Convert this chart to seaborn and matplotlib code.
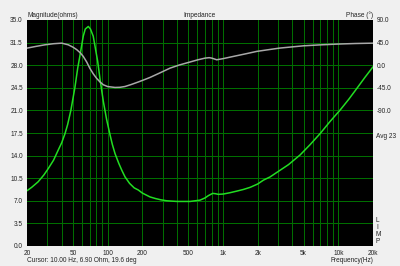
import numpy as np
import pandas as pd
import matplotlib
matplotlib.use("Agg")
import matplotlib.pyplot as plt
import seaborn as sns

# Impedance magnitude (ohms)
mag_freq = [20, 22, 25, 28, 30.6, 34, 37.4, 40, 42.7, 45, 48, 52, 55, 57.7, 61.5, 64,
            68, 71, 75, 78, 82, 86, 91.8, 98, 105, 110, 116, 125, 133, 141.6, 155,
            170, 184.6, 200, 233, 260, 290, 326, 400, 519, 633, 700, 747, 815, 860,
            914, 1008, 1150, 1318, 1500, 1719, 2000, 2244, 2563, 3085, 3700, 4665,
            5700, 6950, 8500, 10370, 12300, 14480, 17000, 20000]
mag_ohm = [8.56, 9.1, 9.95, 11.0, 12.0, 13.3, 14.9, 16.0, 17.4, 18.8, 21.0, 24.5, 27.5,
           29.6, 32.5, 33.6, 34.0, 33.6, 32.5, 30.8, 28.6, 25.8, 22.4, 19.6, 17.2,
           15.7, 14.3, 12.8, 11.7, 10.7, 9.7, 9.0, 8.67, 8.2, 7.6, 7.35, 7.15, 7.0,
           6.9, 6.9, 7.1, 7.45, 7.8, 8.15, 8.1, 8.0, 8.05, 8.25, 8.5, 8.75, 9.08, 9.6,
           10.2, 10.7, 11.66, 12.6, 14.1, 15.7, 17.4, 19.3, 21.05, 22.7, 24.4, 26.1,
           27.75]

# Phase (degrees)
ph_freq = [20, 24, 28.6, 34, 40, 45.6, 50, 54, 58, 61.5, 66, 70, 75, 80, 86, 91.8,
           100, 116, 128, 141.6, 160, 184.6, 210, 233, 280, 348, 420, 519, 600, 700,
           760, 800, 883, 1000, 1233, 1600, 1965, 2500, 3085, 4000, 4980, 7000, 9700,
           14000, 20000]
ph_deg = [34, 37.5, 40.6, 42.8, 43.9, 40.6, 36, 30.9, 24.5, 17.5, 6, -5.8, -17, -25.7,
          -33.5, -39, -42.5, -44.3, -44, -42.4, -38.5, -33.4, -28.5, -24.4, -16, -5.8,
          0.5, 6.4, 10.5, 14.1, 15.0, 14.1, 10.8, 13, 17.5, 23, 27.5, 31, 34, 36.5,
          38.6, 40.5, 42, 43.2, 43.9]

x_ticks = [20, 50, 100, 200, 500, 1000, 2000, 5000, 10000, 20000]
x_labels = ["20", "50", "100", "200", "500", "1k", "2k", "5k", "10k", "20k"]
mag_ticks = [0, 3.5, 7, 10.5, 14, 17.5, 21, 24.5, 28, 31.5, 35]
ph_ticks = [90, 45, 0, -45, -90]

bg = "#f0f0f0"
grid_c = "#006e00"
tc = "#222222"
fs = 4.7

sns.set_style("dark")
plt.rcParams["font.family"] = ["Liberation Sans", "DejaVu Sans"]

fig = plt.figure(figsize=(4, 2.66), dpi=100, facecolor=bg)
ax = fig.add_axes([27/400, 1-246/266, 346/400, 226/266])
ax.set_facecolor("black")
ax.set_xscale("log")
ax.set_xlim(20, 20000)
ax.set_ylim(0, 35)

# grid (interior lines only)
vgrid = [f * d for d in (10, 100, 1000) for f in range(1, 10)] + [10000]
for v in vgrid:
    if 20 < v < 20000:
        ax.axvline(v, color=grid_c, lw=0.72, zorder=1, antialiased=False)
for h in mag_ticks[1:-1]:
    ax.axhline(h, color=grid_c, lw=0.72, zorder=1, antialiased=False)

ax2 = ax.twinx()
ax2.set_ylim(-360, 90)
ax2.set_xscale("log")
ax2.set_xlim(20, 20000)

df_ph = pd.DataFrame({"f": ph_freq, "p": ph_deg})
sns.lineplot(data=df_ph, x="f", y="p", ax=ax2, color="#a8a8a8", lw=1.1, zorder=3)
df_m = pd.DataFrame({"f": mag_freq, "m": mag_ohm})
sns.lineplot(data=df_m, x="f", y="m", ax=ax, color="#22dd22", lw=1.1, zorder=4)
ax.set_zorder(2)
ax2.set_zorder(3)
ax2.patch.set_visible(False)

for a in (ax, ax2):
    a.set_xlabel("")
    a.set_ylabel("")
    a.grid(False)
    for s in a.spines.values():
        s.set_visible(False)
    a.tick_params(length=0, labelsize=fs, colors=tc, pad=3)

ax.set_xticks(x_ticks)
ax.set_xticklabels(x_labels)
ax.xaxis.set_minor_locator(matplotlib.ticker.NullLocator())
ax2.xaxis.set_minor_locator(matplotlib.ticker.NullLocator())
ax.set_yticks(mag_ticks)
ax.set_yticklabels([f"{v:.1f}" for v in mag_ticks])
ax2.set_yticks(ph_ticks)
ax2.set_yticklabels([f"{v:.1f}" for v in ph_ticks])

fig.text(27/400, 1-15.5/266, "Magnitude(ohms)", fontsize=fs, ha="left", va="center", color=tc)
fig.text(200/400, 1-15.5/266, "Impedance", fontsize=fs, ha="center", va="center", color=tc)
fig.text(373/400, 1-15.5/266, "Phase (°)", fontsize=fs, ha="right", va="center", color=tc)
fig.text(376/400, 1-137/266, "Avg 23", fontsize=fs, ha="left", va="center", color=tc)
fig.text(376/400, 1-231/266, "L\nI\nM\nP", fontsize=fs, ha="left", va="center",
         color=tc, linespacing=1.05)
fig.text(27/400, 1-260.5/266, "Cursor: 10.00 Hz, 6.90 Ohm, 19.6 deg", fontsize=fs,
         ha="left", va="center", color=tc)
fig.text(373/400, 1-261/266, "Frequency(Hz)", fontsize=fs, ha="right", va="center", color=tc)

fig.savefig("out.png", dpi=100, facecolor=bg)
